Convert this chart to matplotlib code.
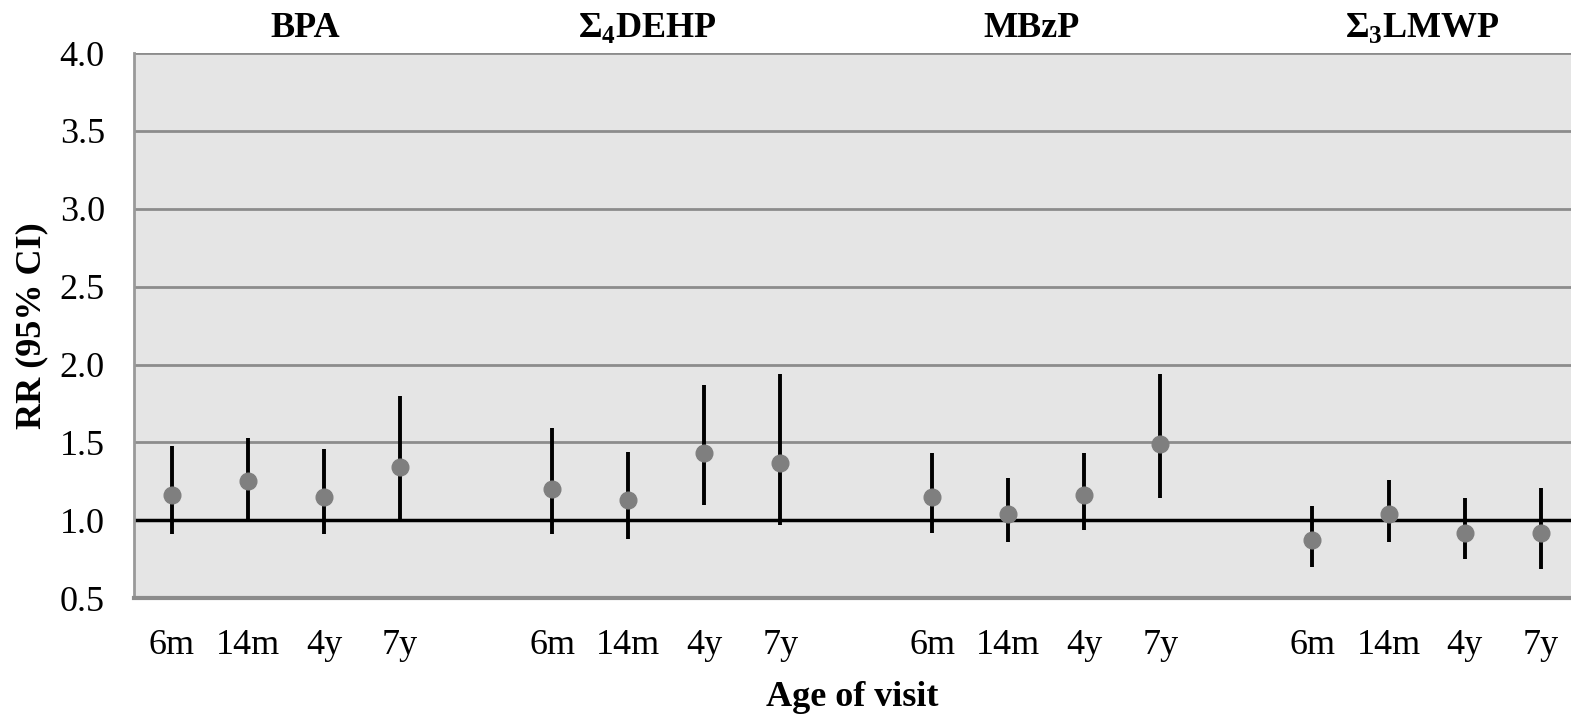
import numpy as np
import matplotlib
matplotlib.use('Agg')
import matplotlib.pyplot as plt

plt.rcParams['font.family'] = ['Liberation Serif', 'DejaVu Serif']
plt.rcParams['mathtext.fontset'] = 'custom'
plt.rcParams['mathtext.rm'] = 'Liberation Serif'
plt.rcParams['mathtext.bf'] = 'Liberation Serif:bold'

# data
groups = ['BPA', 'Σ$_\\mathbf{4}$DEHP', 'MBzP', 'Σ$_\\mathbf{3}$LMWP']
visits = ['6m', '14m', '4y', '7y']
rr = [1.16, 1.25, 1.15, 1.34,
      1.20, 1.13, 1.43, 1.37,
      1.15, 1.04, 1.16, 1.49,
      0.87, 1.04, 0.92, 0.92]
ci_low = [0.91, 1.00, 0.91, 0.99,
          0.91, 0.88, 1.10, 0.97,
          0.92, 0.86, 0.94, 1.14,
          0.70, 0.86, 0.75, 0.69]
ci_high = [1.48, 1.53, 1.46, 1.80,
           1.59, 1.44, 1.87, 1.94,
           1.43, 1.27, 1.43, 1.94,
           1.09, 1.26, 1.14, 1.21]

rr = np.array(rr)
ci_low = np.array(ci_low)
ci_high = np.array(ci_high)

# 4 visits per group, one empty slot between groups
x = np.array([g * 5 + i for g in range(len(groups)) for i in range(len(visits))])

fs = 26

fig = plt.figure(figsize=(15.71, 7.18), dpi=100)
ax = fig.add_axes([0.0853, 0.167, 0.9147, 0.759])
ax.set_facecolor('#e5e5e5')

for yv in [1.5, 2.0, 2.5, 3.0, 3.5, 4.0]:
    ax.axhline(yv, color='#8c8c8c', lw=2, zorder=1)
ax.axhline(1.0, color='black', lw=2.5, zorder=2)

ax.errorbar(x, rr, yerr=[rr - ci_low, ci_high - rr], fmt='o', color='#7f7f7f',
            markersize=12, ecolor='black', elinewidth=2.8, capsize=0, zorder=3)

ax.set_xlim(-0.5, 18.4)
ax.set_ylim(0.5, 4.0)
ax.set_yticks(np.arange(0.5, 4.01, 0.5))
ax.set_yticklabels(['%.1f' % v for v in np.arange(0.5, 4.01, 0.5)])
ax.set_xticks(x)
ax.set_xticklabels(visits * len(groups))
ax.tick_params(axis='both', length=0, labelsize=fs)
ax.tick_params(axis='x', pad=22)
ax.tick_params(axis='y', pad=21)

for s in ['top', 'right']:
    ax.spines[s].set_visible(False)
ax.spines['left'].set_color('#999999')
ax.spines['left'].set_linewidth(2)
ax.spines['bottom'].set_color('#8c8c8c')
ax.spines['bottom'].set_linewidth(3)

title_x = [1.75, 6.25, 11.3, 16.45]
for tx, name in zip(title_x, groups):
    ax.text(tx, 4.05, name, ha='center', va='bottom', fontsize=fs, fontweight='bold')

ax.set_xlabel('Age of visit', fontsize=fs, fontweight='bold', labelpad=14)
ax.set_ylabel('RR (95% CI)', fontsize=fs, fontweight='bold', labelpad=8)

fig.savefig('out.png', dpi=100)
